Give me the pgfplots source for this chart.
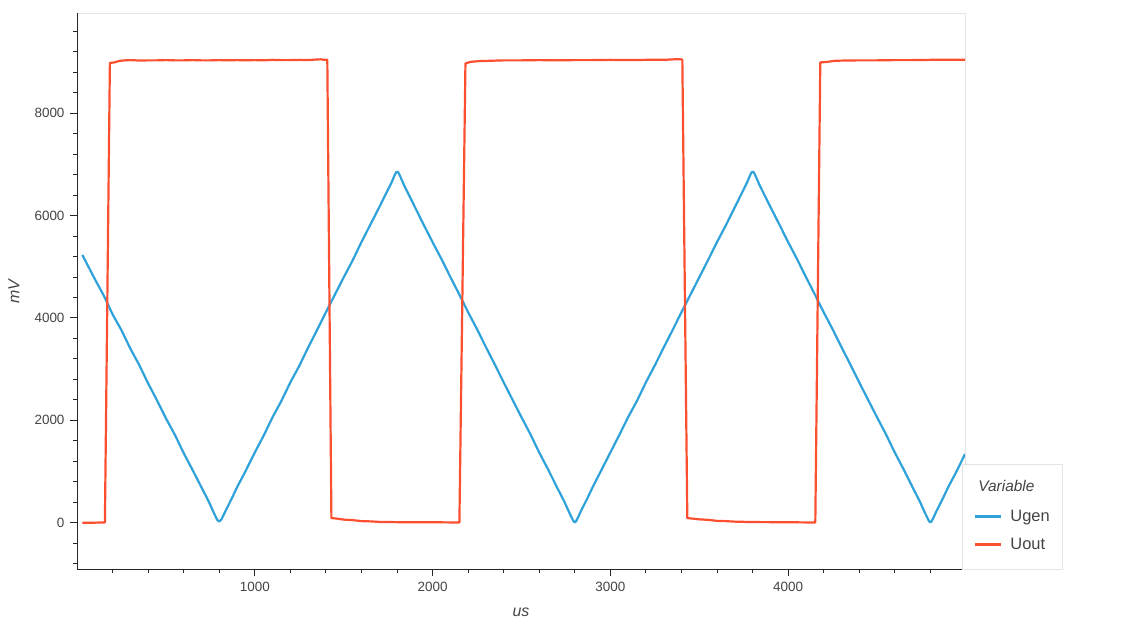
\documentclass[border=0pt]{standalone}
\usepackage{fontspec}
\setmainfont{Liberation Sans}
\usepackage{pgfplots}
\pgfplotsset{compat=1.18}
\definecolor{ugen}{HTML}{30A2DA}
\definecolor{uout}{HTML}{FC4F30}
\definecolor{labelgray}{HTML}{444444}
\begin{document}
\begin{tikzpicture}
\begin{axis}[
    at={(0,0)}, anchor=south west,
    scale only axis, width=888bp, height=556bp,
    xmin=0, xmax=4995, ymin=-905, ymax=9955,
    axis x line=bottom, axis y line=left,
    axis line style={-, black!85, line width=0.8bp},
    axis background/.style={draw=black!10},
    xtick={1000,2000,3000,4000},
    minor xtick={200,400,...,4800},
    ytick={0,2000,4000,6000,8000},
    minor ytick={-800,-400,...,9600},
    tick align=outside,
    major tick length=7bp, minor tick length=4bp,
    every tick/.style={black!85, line width=0.8bp},
    /pgf/number format/assume math mode=true,
    /pgf/number format/1000 sep={},
    tick label style={font=\fontsize{13.5}{15}\selectfont, text=labelgray},
    xticklabel style={yshift=-3bp},
    yticklabel style={xshift=-2bp},
    xlabel={\textit{us}}, ylabel={\textit{mV}},
    every axis x label/.style={at={(axis description cs:0.5,0)}, anchor=center, yshift=-43bp, font=\fontsize{16}{18}\selectfont, text=labelgray},
    every axis y label/.style={at={(axis description cs:0,0.5)}, anchor=center, xshift=-63bp, rotate=90, font=\fontsize{16}{18}\selectfont, text=labelgray},
    legend image code/.code={\draw[#1] (0bp,0bp) -- (26bp,0bp);},
    legend style={at={(rel axis cs:1,0)}, anchor=south west, xshift=-3bp,
        draw=black!10, fill=white, text=labelgray,
        font=\fontsize{16.5}{18}\selectfont,
        inner xsep=12bp, inner ysep=18bp, row sep=15bp, column sep=8bp,
        nodes={inner sep=0pt, anchor=west}},
    legend cell align=left,
    every axis plot/.append style={line width=2.2bp, line join=round},
]
\addlegendimage{legend image code/.code={\node[overlay, anchor=west, inner sep=0pt, font=\fontsize{15.5}{18}\selectfont\itshape] at (2bp,2bp) {Variable};}}
\addlegendentry{\vphantom{Ug}}

\addplot[ugen, no marks] coordinates {
(30,5230) (100,4760) (150,4440) (200,4070) (250,3760) (300,3400) (350,3080) (400,2720)
(450,2390) (500,2040) (550,1720) (600,1360) (650,1030) (700,690) (740,420) (770,190)
(788,60) (800,20) (812,60) (830,190) (870,470) (900,690) (950,1020) (1000,1370)
(1050,1700) (1100,2060) (1150,2380) (1200,2740) (1250,3060) (1300,3420) (1350,3760)
(1400,4110) (1450,4450) (1500,4790) (1550,5120) (1600,5480) (1650,5820) (1700,6160)
(1740,6440) (1770,6650) (1788,6800) (1796,6850) (1806,6850) (1816,6780) (1840,6590)
(1870,6380) (1900,6170) (1950,5820) (2000,5480) (2050,5150) (2100,4800) (2150,4460)
(2200,4110) (2250,3780) (2300,3430) (2350,3090) (2400,2740) (2450,2400) (2500,2060)
(2550,1730) (2600,1370) (2650,1040) (2700,690) (2740,420) (2770,190) (2788,60)
(2797,10) (2805,15) (2815,80) (2835,230) (2870,470) (2900,690) (2950,1030) (3000,1370)
(3050,1710) (3100,2060) (3150,2380) (3200,2740) (3250,3070) (3300,3420) (3350,3760)
(3400,4110) (3450,4450) (3500,4790) (3550,5130) (3600,5480) (3650,5810) (3700,6160)
(3740,6440) (3770,6650) (3788,6800) (3796,6850) (3806,6850) (3816,6780) (3840,6590)
(3870,6380) (3900,6170) (3950,5830) (4000,5480) (4050,5150) (4100,4800) (4150,4460)
(4200,4110) (4250,3780) (4300,3430) (4350,3090) (4400,2740) (4450,2400) (4500,2060)
(4550,1730) (4600,1370) (4650,1040) (4700,690) (4740,420) (4770,190) (4788,60)
(4797,10) (4805,15) (4815,80) (4835,230) (4870,470) (4900,690) (4950,1020) (4995,1340)
};
\addlegendentry{Ugen}

\addplot[uout, no marks] coordinates {
(30,0) (100,0) (157,5) (185,8980) (210,8990) (240,9020) (270,9030) (300,9035)
(330,9030) (360,9025) (400,9030) (450,9030) (500,9035) (550,9030) (600,9030)
(650,9035) (700,9030) (750,9030) (800,9035) (850,9030) (900,9035) (950,9030)
(1000,9035) (1050,9030) (1100,9040) (1150,9035) (1200,9035) (1250,9040) (1300,9035)
(1340,9045) (1370,9050) (1395,9040) (1408,9040) (1431,90) (1460,80) (1500,60)
(1550,50) (1600,30) (1650,25) (1700,15) (1800,10) (1900,8) (2000,8) (2100,5)
(2151,5) (2185,8970) (2213,9000) (2260,9015) (2309,9020) (2400,9030) (2500,9030)
(2600,9035) (2700,9030) (2800,9035) (2900,9035) (3000,9040) (3100,9035) (3200,9040)
(3300,9040) (3360,9050) (3395,9050) (3405,9045) (3433,90) (3460,80) (3500,65)
(3550,55) (3600,35) (3650,30) (3700,20) (3800,12) (3900,10) (4000,8) (4100,5)
(4153,5) (4181,8990) (4220,9000) (4260,9020) (4300,9025) (4400,9030) (4500,9030)
(4600,9035) (4700,9035) (4800,9040) (4900,9040) (4995,9040)
};
\addlegendentry{Uout}
\end{axis}
\pgfresetboundingbox
\path (-77bp,-56bp) rectangle (1048bp,569bp);
\end{tikzpicture}
\end{document}
